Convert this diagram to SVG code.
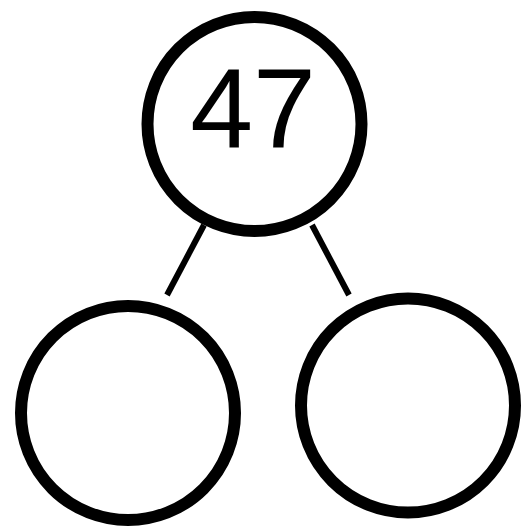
<svg xmlns="http://www.w3.org/2000/svg" width="523" height="526" viewBox="0 0 523 526">
<style>
.node{fill:#fff;stroke:#000;stroke-width:12}
.edge{stroke:#000;stroke-width:6;stroke-linecap:butt}
.lbl{font-family:"Liberation Sans",Arial,sans-serif;font-size:113px;fill:#000;text-anchor:middle}
</style>
<rect width="523" height="526" fill="#fff"/>
<g id="connectors">
<line class="edge" x1="204" y1="225" x2="167" y2="295"/>
<line class="edge" x1="312" y1="225" x2="349" y2="295"/>
</g>
<g id="top">
<circle class="node" cx="254.5" cy="124" r="107"/>
<text class="lbl" x="253" y="148">47</text>
</g>
<g id="left">
<circle class="node" cx="128" cy="413" r="107"/>
</g>
<g id="right">
<circle class="node" cx="408" cy="405.5" r="107"/>
</g>
</svg>
